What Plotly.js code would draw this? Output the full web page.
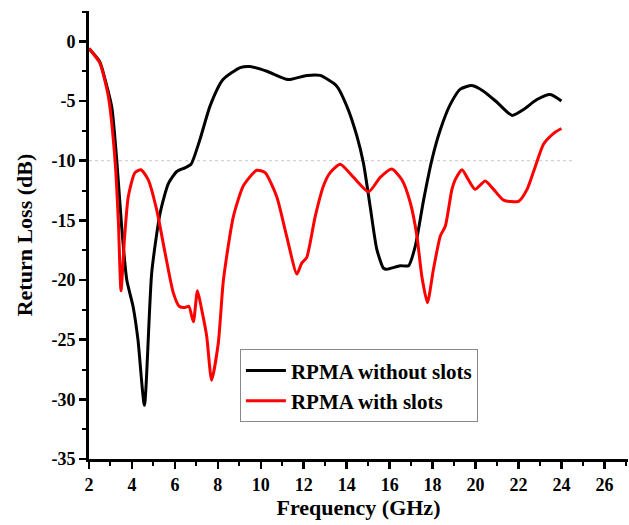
<!DOCTYPE html>
<html>
<head>
<meta charset="utf-8">
<script src="https://cdn.plot.ly/plotly-3.0.1.min.js"></script>
<style>html,body{margin:0;padding:0;background:#fff;}#chart{width:629px;height:525px;}</style>
</head>
<body>
<div id="chart"></div>
<script>
// Series: RPMA without slots
var freqNoSlots = [2.0, 2.5, 2.75, 3.06, 3.29, 3.52, 3.76, 4.05, 4.28, 4.58, 4.92, 5.31, 5.7, 6.09, 6.47, 6.75, 7.17, 7.64, 8.24, 9.04, 9.5, 10.28, 11.27, 12.14, 12.76, 13.54, 14.0, 14.47, 14.78, 15.09, 15.4, 15.71, 15.87, 16.49, 16.88, 17.19, 17.58, 17.97, 18.36, 18.82, 19.29, 19.83, 20.37, 21.0, 21.7, 22.24, 22.86, 23.48, 24.0];
var rlNoSlots   = [-0.6, -1.7, -3.2, -5.5, -9.9, -15.5, -20.0, -22.2, -25.0, -30.5, -19.4, -14.4, -11.9, -10.9, -10.6, -10.3, -8.2, -5.4, -3.2, -2.2, -2.1, -2.5, -3.2, -2.85, -2.85, -3.75, -5.4, -7.9, -10.2, -13.8, -17.4, -19.0, -19.1, -18.8, -18.8, -17.2, -13.3, -9.9, -7.4, -5.3, -4.0, -3.7, -4.17, -5.1, -6.2, -5.7, -4.87, -4.45, -5.0];

// Series: RPMA with slots
var freqSlots = [2.0, 2.5, 2.9, 3.21, 3.37, 3.49, 3.65, 3.83, 4.14, 4.42, 4.76, 5.15, 5.54, 5.93, 6.2, 6.47, 6.65, 6.86, 7.05, 7.25, 7.48, 7.71, 8.02, 8.26, 8.72, 9.19, 9.81, 10.2, 10.74, 11.2, 11.68, 11.9, 12.14, 12.53, 12.92, 13.23, 13.7, 14.32, 15.02, 15.56, 16.1, 16.57, 16.96, 17.27, 17.5, 17.76, 18.04, 18.36, 18.59, 18.9, 19.05, 19.37, 19.67, 19.98, 20.45, 20.84, 21.3, 22.0, 22.4, 22.78, 23.17, 23.64, 24.0];
var rlSlots   = [-0.6, -1.8, -4.6, -9.9, -15.2, -20.9, -16.6, -13.0, -11.0, -10.75, -11.6, -14.1, -17.7, -21.1, -22.2, -22.3, -22.2, -23.5, -20.9, -22.5, -24.7, -28.4, -25.3, -20.0, -14.7, -12.1, -10.8, -11.0, -13.0, -16.3, -19.5, -18.6, -18.1, -14.7, -12.1, -11.0, -10.3, -11.4, -12.6, -11.4, -10.7, -11.6, -13.5, -16.3, -19.7, -21.9, -19.1, -16.3, -15.5, -12.4, -11.6, -10.75, -11.6, -12.4, -11.7, -12.4, -13.3, -13.4, -12.4, -10.5, -8.6, -7.7, -7.3];

var seriesNames = ["RPMA without slots", "RPMA with slots"];

// Tick labels
var xTickVals = [2, 4, 6, 8, 10, 12, 14, 16, 18, 20, 22, 24, 26];
var xTickText = ["2", "4", "6", "8", "10", "12", "14", "16", "18", "20", "22", "24", "26"];
var yTickVals = [0, -5, -10, -15, -20, -25, -30, -35];
var yTickText = ["0", "-5", "-10", "-15", "-20", "-25", "-30", "-35"];

// Reference level line (-10 dB)
var refLevel = -10;
var refStart = 2;
var refEnd = 24.5;

var fontFam = "Liberation Serif, Times New Roman, serif";

var traces = [
  {x: freqNoSlots, y: rlNoSlots, name: seriesNames[0], type: "scatter", mode: "lines",
   line: {color: "#000000", width: 3, shape: "spline", smoothing: 0.6}},
  {x: freqSlots, y: rlSlots, name: seriesNames[1], type: "scatter", mode: "lines",
   line: {color: "#ff0000", width: 3, shape: "spline", smoothing: 0.6}}
];

var layout = {
  width: 629, height: 525,
  margin: {l: 89, r: 1, t: 11, b: 66},
  paper_bgcolor: "#ffffff", plot_bgcolor: "#ffffff",
  showlegend: true,
  font: {family: fontFam, color: "#000"},
  xaxis: {
    range: [2, 27.1], showgrid: false, zeroline: false,
    showline: true, linecolor: "#000", linewidth: 3,
    ticks: "outside", ticklen: 7, tickwidth: 2.5, tickcolor: "#000",
    tickmode: "array", tickvals: xTickVals, ticktext: xTickText,
    tickfont: {family: fontFam, size: 18, color: "#000", weight: "bold"},
    minor: {dtick: 1, ticks: "outside", ticklen: 4, tickwidth: 2, tickcolor: "#000", showgrid: false},
    title: {text: "<b>Frequency (GHz)</b>", font: {family: fontFam, size: 22, color: "#000"}, standoff: 3}
  },
  yaxis: {
    range: [-35, 2.55], showgrid: false, zeroline: false,
    showline: true, linecolor: "#000", linewidth: 3,
    ticks: "outside", ticklen: 7, tickwidth: 2.5, tickcolor: "#000",
    tickmode: "array", tickvals: yTickVals, ticktext: yTickText,
    tickfont: {family: fontFam, size: 18, color: "#000", weight: "bold"},
    minor: {dtick: 2.5, ticks: "outside", ticklen: 4, tickwidth: 2, tickcolor: "#000", showgrid: false},
    title: {text: "<b>Return Loss (dB)</b>", font: {family: fontFam, size: 22, color: "#000"}, standoff: 13}
  },
  legend: {
    x: 0.28, y: 0.245, xanchor: "left", yanchor: "top",
    bgcolor: "#ffffff", bordercolor: "#888", borderwidth: 1,
    font: {family: fontFam, size: 21, color: "#000", weight: "bold"},
    tracegroupgap: 0, itemwidth: 40
  },
  shapes: [
    {type: "line", xref: "x", yref: "y", x0: refStart, x1: refEnd, y0: refLevel, y1: refLevel,
     line: {color: "#c8c8c8", width: 1, dash: "dot"}, layer: "below"}
  ]
};

Plotly.newPlot("chart", traces, layout, {displayModeBar: false, staticPlot: true});
</script>
</body>
</html>
